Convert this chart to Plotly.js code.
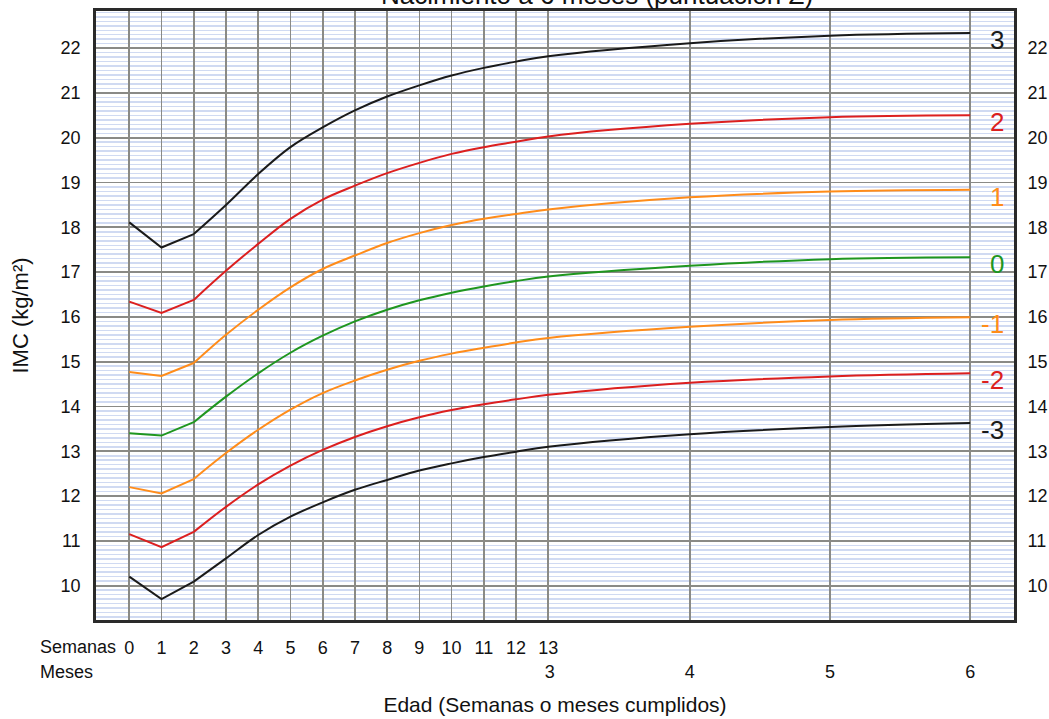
<!DOCTYPE html>
<html>
<head>
<meta charset="utf-8">
<script src="https://cdn.plot.ly/plotly-3.0.1.min.js"></script>
<style>
  html, body { margin: 0; padding: 0; background: #ffffff; }
  #chart { width: 1049px; height: 719px; }
</style>
</head>
<body>
<div id="chart"></div>
<script>
// ---- Data (IMC / BMI z-score curves, birth to 6 months) ----
const weeks = [0, 1, 2, 3, 4, 5, 6, 7, 8, 9, 10, 11, 12, 13];
const weekTickLabels = ['0','1','2','3','4','5','6','7','8','9','10','11','12','13'];
const months = [4, 5, 6];                 // monthly points after week 13
const monthTickNums = [3, 4, 5, 6];
const monthTickLabels = ['3', '4', '5', '6'];
const yTicks = [10, 11, 12, 13, 14, 15, 16, 17, 18, 19, 20, 21, 22];

// weekly values (weeks 0..13)
const sd3w  = [18.11, 17.55, 17.85, 18.50, 19.19, 19.79, 20.23, 20.61, 20.92, 21.17, 21.39, 21.56, 21.70, 21.82];
const sd2w  = [16.34, 16.09, 16.38, 17.03, 17.63, 18.19, 18.62, 18.93, 19.21, 19.44, 19.64, 19.79, 19.91, 20.03];
const sd1w  = [14.77, 14.68, 14.97, 15.60, 16.16, 16.66, 17.07, 17.37, 17.65, 17.87, 18.05, 18.19, 18.30, 18.40];
const sd0w  = [13.40, 13.35, 13.65, 14.22, 14.74, 15.20, 15.58, 15.90, 16.16, 16.37, 16.54, 16.68, 16.80, 16.90];
const sdm1w = [12.20, 12.06, 12.38, 12.96, 13.48, 13.93, 14.30, 14.58, 14.82, 15.02, 15.18, 15.31, 15.43, 15.53];
const sdm2w = [11.15, 10.86, 11.20, 11.76, 12.26, 12.68, 13.03, 13.32, 13.56, 13.76, 13.92, 14.05, 14.16, 14.26];
const sdm3w = [10.20,  9.70, 10.09, 10.61, 11.13, 11.54, 11.86, 12.14, 12.36, 12.57, 12.73, 12.87, 12.99, 13.10];

// monthly values (months 4, 5, 6)
const sd3m  = [22.11, 22.28, 22.34];
const sd2m  = [20.31, 20.46, 20.50];
const sd1m  = [18.67, 18.80, 18.84];
const sd0m  = [17.14, 17.29, 17.33];
const sdm1m = [15.78, 15.93, 15.99];
const sdm2m = [14.53, 14.67, 14.74];
const sdm3m = [13.38, 13.54, 13.63];

const curveLabels = ['3', '2', '1', '0', '-1', '-2', '-3'];
const curveColors = ['#1a1a1a', '#dc1f1f', '#ff8c1a', '#1f961f', '#ff8c1a', '#dc1f1f', '#1a1a1a'];
const chartTitle = 'Nacimiento a 6 meses (puntuación Z)';

// ---- Build ----
const monthToWeek = m => m * 30.4375 / 7;
const monthPos = months.map(monthToWeek);
const weeklySets = [sd3w, sd2w, sd1w, sd0w, sdm1w, sdm2w, sdm3w];
const monthlySets = [sd3m, sd2m, sd1m, sd0m, sdm1m, sdm2m, sdm3m];

const traces = [];
const annotations = [];
const LBL = 'Liberation Sans, Arial, Helvetica, sans-serif';

weeklySets.forEach((w, i) => {
  const m = monthlySets[i];
  // first weeks: straight segments
  traces.push({
    x: weeks.slice(0, 3), y: w.slice(0, 3),
    mode: 'lines', type: 'scatter', showlegend: false, hoverinfo: 'skip',
    line: { color: curveColors[i], width: 2 }
  });
  // rest: smooth curve through weekly then monthly points
  traces.push({
    x: weeks.slice(2).concat(monthPos), y: w.slice(2).concat(m),
    mode: 'lines', type: 'scatter', showlegend: false, hoverinfo: 'skip',
    line: { color: curveColors[i], width: 2, shape: 'spline', smoothing: 1 }
  });
  annotations.push({
    x: monthPos[monthPos.length - 1], y: m[m.length - 1],
    xref: 'x', yref: 'y', text: curveLabels[i], showarrow: false,
    xanchor: 'right', yanchor: 'middle', xshift: 36, yshift: -7,
    font: { family: LBL, size: 26, color: curveColors[i] }
  });
});

// invisible trace to register overlay axes
traces.push({ x: [], y: [], xaxis: 'x2', yaxis: 'y2', type: 'scatter', mode: 'lines', showlegend: false, hoverinfo: 'skip' });

// chart title (sits at the very top edge, partly cropped as in the original)
annotations.push({
  xref: 'paper', yref: 'paper', x: 0.546, y: 1.026, xanchor: 'center', yanchor: 'middle',
  text: chartTitle, showarrow: false, font: { family: LBL, size: 26, color: '#111' }
});
annotations.push({
  xref: 'paper', yref: 'paper', x: -0.063, y: -0.0443, xanchor: 'left', yanchor: 'middle',
  text: 'Semanas', showarrow: false, font: { family: LBL, size: 18, color: '#111' }
});
annotations.push({
  xref: 'paper', yref: 'paper', x: -0.063, y: -0.0854, xanchor: 'left', yanchor: 'middle',
  text: 'Meses', showarrow: false, font: { family: LBL, size: 18, color: '#111' }
});

const xRange = [-1.033, 27.45];
const yRange = [9.233, 22.83];
const gridGray = '#8a8a86';

const layout = {
  width: 1049, height: 719,
  margin: { l: 96, r: 35, t: 11, b: 99 },
  paper_bgcolor: '#ffffff', plot_bgcolor: '#ffffff',
  font: { family: LBL, color: '#111' },
  xaxis: {
    range: xRange, showgrid: true, gridcolor: gridGray, gridwidth: 1.7,
    tickmode: 'array', tickvals: weeks.concat(monthPos),
    ticktext: weekTickLabels.concat(months.map(() => '')),
    ticks: 'outside', ticklen: 10, tickcolor: 'rgba(0,0,0,0)',
    tickfont: { family: LBL, size: 18, color: '#111' },
    zeroline: false, showline: true, linecolor: '#2a2a2a', linewidth: 2.8, mirror: true,
    title: { text: 'Edad (Semanas o meses cumplidos)', standoff: 40, font: { family: LBL, size: 21, color: '#111' } },
    automargin: false
  },
  xaxis2: {
    overlaying: 'x', anchor: 'y', side: 'bottom', range: xRange,
    tickmode: 'array', tickvals: monthTickNums.map(monthToWeek), ticktext: monthTickLabels,
    showgrid: false, zeroline: false, showline: false,
    ticks: 'outside', ticklen: 35, tickcolor: 'rgba(0,0,0,0)',
    tickfont: { family: LBL, size: 18, color: '#111' }
  },
  yaxis: {
    range: yRange, tickmode: 'array', tickvals: yTicks,
    showgrid: true, gridcolor: gridGray, gridwidth: 1.7,
    minor: { dtick: 0.1, tick0: 0, showgrid: true, gridcolor: '#d0daf2', gridwidth: 1.5, ticks: '' },
    ticks: 'outside', ticklen: 9, tickcolor: 'rgba(0,0,0,0)',
    tickfont: { family: LBL, size: 18, color: '#111' },
    zeroline: false, showline: true, linecolor: '#2a2a2a', linewidth: 2.8, mirror: true,
    title: { text: 'IMC (kg/m²)', standoff: 26, font: { family: LBL, size: 22, color: '#111' } },
    automargin: false
  },
  yaxis2: {
    overlaying: 'y', anchor: 'x', side: 'right', range: yRange,
    tickmode: 'array', tickvals: yTicks,
    showgrid: false, zeroline: false, showline: false,
    ticks: 'outside', ticklen: 9, tickcolor: 'rgba(0,0,0,0)',
    tickfont: { family: LBL, size: 18, color: '#111' }
  },
  annotations: annotations,
  showlegend: false
};

Plotly.newPlot('chart', traces, layout, { staticPlot: true, displayModeBar: false });
</script>
</body>
</html>
